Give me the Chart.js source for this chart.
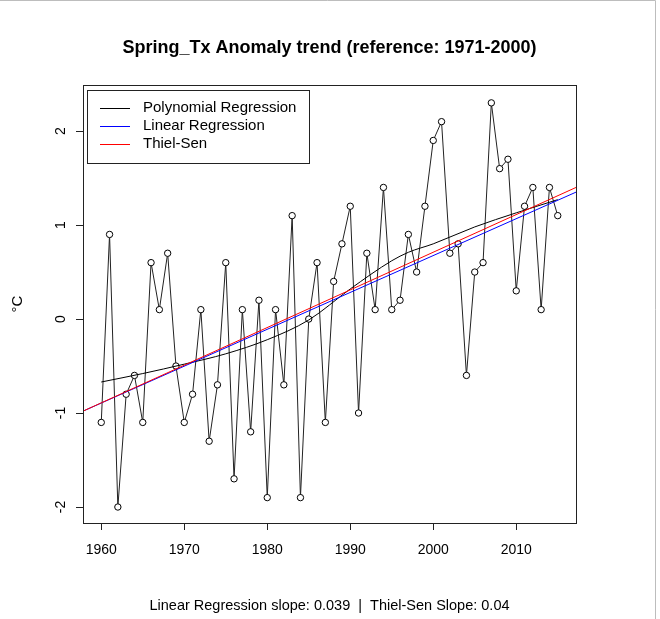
<!DOCTYPE html>
<html>
<head>
<meta charset="utf-8">
<script src="https://cdn.jsdelivr.net/npm/chart.js@4.4.1/dist/chart.umd.min.js"></script>
<style>
  body { margin: 0; background: #fff; }
</style>
</head>
<body>
<canvas id="trend" width="660" height="619"></canvas>
<script>
var years = [1960,1961,1962,1963,1964,1965,1966,1967,1968,1969,
             1970,1971,1972,1973,1974,1975,1976,1977,1978,1979,
             1980,1981,1982,1983,1984,1985,1986,1987,1988,1989,
             1990,1991,1992,1993,1994,1995,1996,1997,1998,1999,
             2000,2001,2002,2003,2004,2005,2006,2007,2008,2009,
             2010,2011,2012,2013,2014,2015];
var anomaly = [-1.1, 0.9,-2.0,-0.8,-0.6,-1.1, 0.6, 0.1, 0.7,-0.5,
               -1.1,-0.8, 0.1,-1.3,-0.7, 0.6,-1.7, 0.1,-1.2, 0.2,
               -1.9, 0.1,-0.7, 1.1,-1.9, 0.0, 0.6,-1.1, 0.4, 0.8,
                1.2,-1.0, 0.7, 0.1, 1.4, 0.1, 0.2, 0.9, 0.5, 1.2,
                1.9, 2.1, 0.7, 0.8,-0.6, 0.5, 0.6, 2.3, 1.6, 1.7,
                0.3, 1.2, 1.4, 0.1, 1.4, 1.1];

// smooth "polynomial" curve
var polyYears = [1960,1965,1970,1975,1980,1985,1990,1995,1997,2000,2005,2010,2015];
var polyFit   = [-0.67,-0.58,-0.48,-0.37,-0.22,-0.01,0.32,0.62,0.71,0.80,0.98,1.13,1.27];

// straight trend lines across the whole plot (ends read at the box edges)
var lineYears = [1957.8, 2017.2];
var linearFit = [-0.98, 1.35];
var thielFit  = [-0.98, 1.40];

var xTicks = [1960,1970,1980,1990,2000,2010];
var yTicks = [-2,-1,0,1,2];
var yMin = -2.17, yMax = 2.49;

var titleText = 'Spring_Tx Anomaly trend (reference: 1971-2000)';
var footText = 'Linear Regression slope: 0.039  |  Thiel-Sen Slope: 0.04';
var yLabel = '°C';

function pairs(xs, ys) {
  return xs.map(function (x, i) { return { x: x, y: ys[i] }; });
}

var FONT = '"Liberation Sans", Arial, Helvetica, sans-serif';

var decor = {
  id: 'decor',
  afterDraw: function (chart) {
    var ctx = chart.ctx, a = chart.chartArea;
    ctx.save();
    // outer frame lines of the image
    ctx.strokeStyle = '#bdbdbd';
    ctx.lineWidth = 1;
    ctx.beginPath();
    ctx.moveTo(0, 0.5); ctx.lineTo(655.5, 0.5); ctx.lineTo(655.5, 619);
    ctx.stroke();

    // plot box
    ctx.strokeStyle = '#222';
    ctx.strokeRect(a.left + 0.5, a.top + 0.5, a.right - a.left, a.bottom - a.top);

    var cx = (a.left + a.right) / 2;
    ctx.fillStyle = '#000';
    ctx.textAlign = 'center';
    ctx.textBaseline = 'middle';
    ctx.font = 'bold 18px ' + FONT;
    ctx.fillText(titleText, cx, 48);
    ctx.font = '14.5px ' + FONT;
    ctx.fillText(footText, cx, 606);

    ctx.save();
    ctx.translate(18, (a.top + a.bottom) / 2);
    ctx.rotate(-Math.PI / 2);
    ctx.font = '15px ' + FONT;
    ctx.fillText(yLabel, 0, 0);
    ctx.restore();

    // legend
    ctx.strokeStyle = '#222';
    ctx.strokeRect(87.5, 90.5, 222, 73);
    ctx.font = '15px ' + FONT;
    ctx.textAlign = 'left';
    var rows = chart.data.datasets.filter(function (d) { return d.inLegend; });
    rows.forEach(function (d, i) {
      var y = 108 + i * 18;
      ctx.strokeStyle = d.borderColor;
      ctx.beginPath();
      ctx.moveTo(100, y + 0.5); ctx.lineTo(130, y + 0.5);
      ctx.stroke();
      ctx.fillStyle = '#000';
      ctx.fillText(d.label, 143, y);
    });
    ctx.restore();
  }
};

function plain(v) { return String(v); }

new Chart(document.getElementById('trend'), {
  type: 'line',
  data: {
    datasets: [
      {
        label: 'Polynomial Regression', inLegend: true,
        data: pairs(polyYears, polyFit),
        borderColor: '#000', borderWidth: 1, pointRadius: 0,
        cubicInterpolationMode: 'monotone', order: 3
      },
      {
        label: 'Linear Regression', inLegend: true,
        data: pairs(lineYears, linearFit),
        borderColor: '#0000ff', borderWidth: 1, pointRadius: 0, order: 2
      },
      {
        label: 'Thiel-Sen', inLegend: true,
        data: pairs(lineYears, thielFit),
        borderColor: '#ff0000', borderWidth: 1, pointRadius: 0, order: 1
      },
      {
        label: 'Spring_Tx', inLegend: false,
        data: pairs(years, anomaly),
        borderColor: '#222', borderWidth: 1,
        pointRadius: 3.2, pointBorderWidth: 1,
        pointBorderColor: '#000', pointBackgroundColor: '#fff',
        tension: 0, order: 4
      }
    ]
  },
  options: {
    responsive: false,
    animation: false,
    layout: { padding: { top: 85, right: 84, left: 0, bottom: 0 } },
    plugins: { legend: { display: false }, tooltip: { enabled: false }, title: { display: false } },
    scales: {
      x: {
        type: 'linear', min: lineYears[0], max: lineYears[1],
        afterBuildTicks: function (s) { s.ticks = xTicks.map(function (v) { return { value: v }; }); },
        afterFit: function (s) { s.height = 96; },
        grid: { drawOnChartArea: false, drawTicks: true, tickLength: 7, tickColor: '#222' },
        border: { display: false },
        ticks: { color: '#000', font: { size: 14, family: FONT }, padding: 12, maxRotation: 0,
                 autoSkip: false, callback: plain }
      },
      y: {
        type: 'linear', min: yMin, max: yMax,
        afterBuildTicks: function (s) { s.ticks = yTicks.map(function (v) { return { value: v }; }); },
        afterFit: function (s) { s.width = 83; },
        grid: { drawOnChartArea: false, drawTicks: true, tickLength: 7, tickColor: '#222' },
        border: { display: false },
        ticks: { color: '#000', font: { size: 14, family: FONT }, padding: 9,
                 minRotation: 90, maxRotation: 90, crossAlign: 'center', autoSkip: false,
                 callback: plain }
      }
    }
  },
  plugins: [decor]
});
</script>
</body>
</html>
